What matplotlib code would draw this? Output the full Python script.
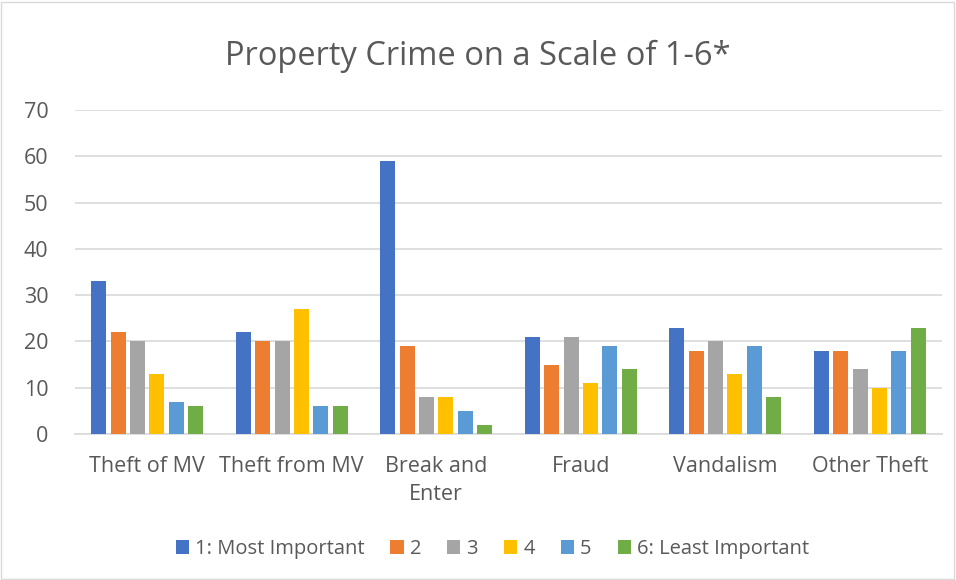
import matplotlib
matplotlib.use("Agg")
import matplotlib.pyplot as plt
import numpy as np
from matplotlib.patches import Rectangle

categories = ["Theft of MV", "Theft from MV", "Break and\nEnter", "Fraud", "Vandalism", "Other Theft"]
series_names = ["1: Most Important", "2", "3", "4", "5", "6: Least Important"]
s1 = [33, 22, 59, 21, 23, 18]
s2 = [22, 20, 19, 15, 18, 18]
s3 = [20, 20, 8, 21, 20, 14]
s4 = [13, 27, 8, 11, 13, 10]
s5 = [7, 6, 5, 19, 19, 18]
s6 = [6, 6, 2, 14, 8, 23]
series = [s1, s2, s3, s4, s5, s6]
colors = ["#4472C4", "#ED7D31", "#A5A5A5", "#FFC000", "#5B9BD5", "#70AD47"]
yticks = [0, 10, 20, 30, 40, 50, 60, 70]

plt.rcParams['font.family'] = ['Open Sans', 'DejaVu Sans']
fig = plt.figure(figsize=(9.56, 5.8), dpi=100)
fig.patches.append(Rectangle((0.001, 0.002), 0.997, 0.995, transform=fig.transFigure,
                             fill=False, edgecolor="#D9D9D9", linewidth=1))
ax = fig.add_axes([75/956, (580-434)/580, 867/956, 324/580])

x = np.arange(len(categories))
slot = 0.134
bw = 0.104
for i, (vals, c, name) in enumerate(zip(series, colors, series_names)):
    ax.bar(x + (i - 2.5) * slot, vals, width=bw, color=c, label=name, zorder=3)

ax.set_xlim(-0.5, len(categories) - 0.5)
ax.set_ylim(0, 70)
ax.set_yticks(yticks)
ax.set_xticks(x)
ax.set_xticklabels(categories, linespacing=1.45)
ax.yaxis.grid(True, color="#D9D9D9", linewidth=1.2, zorder=0)
ax.set_axisbelow(True)
for s in ["top", "right", "left"]:
    ax.spines[s].set_visible(False)
ax.spines["bottom"].set_color("#D9D9D9")
ax.spines["bottom"].set_linewidth(1.2)
ax.tick_params(axis="both", length=0, labelsize=15.5, colors="#595959")
ax.tick_params(axis="y", pad=19)
ax.tick_params(axis="x", pad=16)
for lbl in ax.get_yticklabels():
    lbl.set_horizontalalignment("right")

fig.text(0.5, 0.903, "Property Crime on a Scale of 1-6*", ha="center", va="center",
         fontsize=23.5, color="#595959")

leg = fig.legend(loc="center", bbox_to_anchor=(0.515, 0.053), ncol=6, frameon=False,
                 fontsize=14.5, handlelength=0.65, handleheight=0.65, handletextpad=0.3,
                 columnspacing=1.3, labelcolor="#595959")

fig.savefig("out.png", dpi=100, facecolor="white")
